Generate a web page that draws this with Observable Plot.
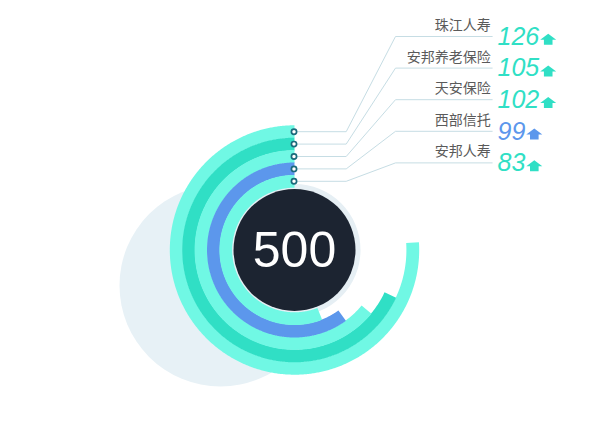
<!DOCTYPE html>
<html>
<head>
<meta charset="utf-8">
<script src="https://cdn.jsdelivr.net/npm/d3@7"></script>
<script src="https://cdn.jsdelivr.net/npm/@observablehq/plot@0.6"></script>
<style>
  html, body { margin: 0; padding: 0; background: #ffffff; }
  #chart svg { display: block; }
</style>
</head>
<body>
<div id="chart"></div>
<script>
// ---- data ----
const names = ["珠江人寿", "安邦养老保险", "天安保险", "西部信托", "安邦人寿"];
const values = [126, 105, 102, 99, 83];
const progress = [76, 68, 64, 60, 56]; // ring fill, percent of a full circle
const total = 500;
const ringColors = ["#70f8e4", "#30dfc5", "#70f8e4", "#5c97ec", "#70f8e4"];
const valueColors = ["#30dfc5", "#30dfc5", "#30dfc5", "#5c97ec", "#30dfc5"];

// ---- layout ----
const W = 600, H = 448;
const cx = 294, cy = 249.5;
const R = 124.5, band = 12.4;
const labelTop = 36, labelStep = 31.6;
const elbowX = 345.7, rampX = 395, lineEndX = 491.7;
const valueX = 497, valueFont = 25;

const angle = d3.scaleLinear([0, 100], [0, 360]);
const rad = d => d * Math.PI / 180;
const ringR = i => R - band * (i + 0.5);

// arc polylines (counter-clockwise from 12 o'clock)
const arcPts = [];
progress.forEach((p, i) => {
  const sweep = angle(p);
  const steps = d3.range(0, sweep, 0.5).concat([sweep]);
  const r = ringR(i);
  for (const a of steps) {
    arcPts.push({i, c: ringColors[i], x: cx - r * Math.sin(rad(a)), y: cy - r * Math.cos(rad(a))});
  }
});

const rows = names.map((name, i) => ({
  name, value: values[i], i,
  ringY: cy - ringR(i),
  labelY: labelTop + labelStep * i,
  vc: valueColors[i]
}));

const leaders = rows.flatMap(d => [
  {i: d.i, x: cx, y: d.ringY},
  {i: d.i, x: elbowX, y: d.ringY},
  {i: d.i, x: rampX, y: d.labelY},
  {i: d.i, x: lineEndX, y: d.labelY}
]);

// measure value text widths to place arrows
const ctx = document.createElement("canvas").getContext("2d");
ctx.font = `italic ${valueFont}px "Liberation Sans"`;
rows.forEach(d => { d.arrowX = valueX + ctx.measureText(String(d.value)).width + 9; });

const arrowSymbol = {
  draw(context) {
    context.moveTo(0, -5.5);
    context.lineTo(8, 0.5);
    context.lineTo(4.3, 0.5);
    context.lineTo(4.3, 5.5);
    context.lineTo(-4.3, 5.5);
    context.lineTo(-4.3, 0.5);
    context.lineTo(-8, 0.5);
    context.closePath();
  }
};

const chart = Plot.plot({
  width: W, height: H, margin: 0,
  style: {background: "#ffffff"},
  x: {domain: [0, W], range: [0, W], axis: null},
  y: {domain: [0, H], range: [0, H], axis: null},
  color: {type: "identity"},
  marks: [
    // pale backdrop disc
    Plot.dot([{x: 220, y: 285}], {x: "x", y: "y", r: 101, fill: "#e7f1f6"}),
    // halo around core
    Plot.dot([{x: cx, y: cy}], {x: "x", y: "y", r: 66, fill: "#e6eff4"}),
    // rings
    Plot.line(arcPts, {x: "x", y: "y", z: "i", stroke: "c", strokeWidth: band + 0.4, strokeLinecap: "butt", strokeLinejoin: "round"}),
    // core
    Plot.dot([{x: cx, y: cy}], {x: "x", y: "y", r: 61, fill: "#1c2431"}),
    Plot.text([total], {x: () => cx, y: () => cy + 1, text: d => String(d), fill: "#ffffff", fontSize: 50, fontFamily: "Liberation Sans, Arial, sans-serif", lineAnchor: "middle", textAnchor: "middle"}),
    // leader lines
    Plot.line(leaders, {x: "x", y: "y", z: "i", stroke: "#c6dde4", strokeWidth: 1, curve: "linear"}),
    Plot.dot(rows, {x: () => cx - 0.5, y: "ringY", r: 2.6, fill: "#ffffff", stroke: "#1b6a7b", strokeWidth: 1.7}),
    // labels
    Plot.text(rows, {x: () => lineEndX - 1.5, y: d => d.labelY - 6.5, text: "name", textAnchor: "end", lineAnchor: "bottom", fontSize: 14, fill: "#5a5a5a", fontFamily: "Noto Sans CJK SC, sans-serif"}),
    Plot.text(rows, {x: () => valueX, y: d => d.labelY + 8.3, text: d => String(d.value), textAnchor: "start", lineAnchor: "bottom", fontSize: valueFont, fontStyle: "italic", fill: "vc", fontFamily: "Liberation Sans, Arial, sans-serif"}),
    Plot.dot(rows, {x: "arrowX", y: d => d.labelY + 2.8, r: 8, symbol: arrowSymbol, fill: "vc", stroke: "none"})
  ]
});
document.getElementById("chart").appendChild(chart);
</script>
</body>
</html>
